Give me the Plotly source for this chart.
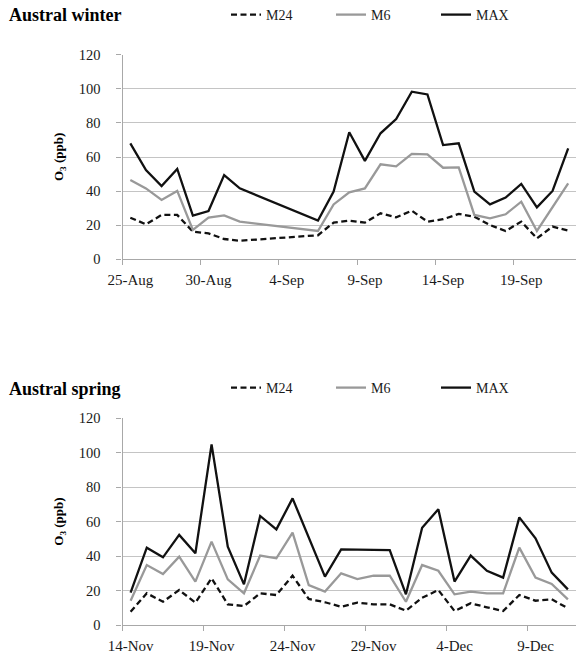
import plotly.graph_objects as go

# ---------------- data ----------------
winter_dates = ["2012-08-25", "2012-08-26", "2012-08-27", "2012-08-28", "2012-08-29",
                "2012-08-30", "2012-08-31", "2012-09-01",
                "2012-09-06", "2012-09-07", "2012-09-08", "2012-09-09", "2012-09-10",
                "2012-09-11", "2012-09-12", "2012-09-13", "2012-09-14", "2012-09-15",
                "2012-09-16", "2012-09-17", "2012-09-18", "2012-09-19", "2012-09-20",
                "2012-09-21", "2012-09-22"]
winter_m24 = [24.4, 20.5, 26.0, 26.0, 16.2, 15.2, 11.9, 10.9,
              14.1, 21.5, 22.7, 21.5, 27.0, 24.6, 28.5, 22.1, 23.5, 26.6,
              25.0, 20.1, 16.6, 22.1, 12.3, 19.2, 16.8]
winter_m6 = [46.5, 41.6, 34.8, 40.1, 17.2, 24.4, 25.8, 22.1,
             16.6, 32.2, 39.3, 41.6, 55.7, 54.5, 61.8, 61.6, 53.7, 53.9,
             26.0, 24.0, 26.4, 33.8, 16.6, 30.5, 44.6]
winter_max = [68.0, 52.4, 43.0, 53.0, 25.6, 28.3, 49.4, 41.6,
              22.7, 39.7, 74.5, 57.7, 73.9, 82.3, 98.3, 96.7, 67.0, 68.0,
              39.7, 32.2, 36.2, 44.2, 30.5, 40.1, 65.1]

spring_dates = ["2012-11-14", "2012-11-15", "2012-11-16", "2012-11-17", "2012-11-18",
                "2012-11-19", "2012-11-20", "2012-11-21", "2012-11-22", "2012-11-23",
                "2012-11-24", "2012-11-25", "2012-11-26", "2012-11-27", "2012-11-28",
                "2012-11-29", "2012-11-30", "2012-12-01", "2012-12-02", "2012-12-03",
                "2012-12-04", "2012-12-05", "2012-12-06", "2012-12-07", "2012-12-08",
                "2012-12-09", "2012-12-10", "2012-12-11"]
spring_m24 = [7.7, 18.4, 13.5, 20.3, 13.0, 27.1, 12.0, 11.0, 18.4, 17.4,
              28.6, 15.1, 13.2, 10.6, 13.0, 12.0, 12.0, 8.3, 15.8, 20.3,
              8.1, 12.6, 10.3, 8.1, 17.4, 14.1, 14.9, 9.7]
spring_m6 = [14.1, 34.8, 29.6, 39.7, 25.2, 48.4, 26.5, 18.4, 40.3, 38.7,
             53.6, 23.2, 19.4, 30.0, 26.7, 28.6, 28.6, 13.5, 34.8, 31.5,
             17.8, 19.4, 18.4, 18.4, 44.9, 27.5, 23.8, 14.9]
spring_max = [18.8, 44.9, 39.3, 52.3, 41.6, 104.9, 45.5, 23.6, 63.3, 55.5,
              73.5, 51.3, 28.1, 43.9, 43.9, 43.5, 43.5, 17.8, 56.5, 67.2,
              25.2, 40.3, 31.5, 27.5, 62.5, 50.3, 30.4, 20.7]

series_names = ["M24", "M6", "MAX"]
panel_titles = ["Austral winter", "Austral spring"]
y_title = "<b>O<sub>3</sub> (ppb)</b>"
y_ticks = [0, 20, 40, 60, 80, 100, 120]

# ---------------- styling ----------------
W, H = 576, 658
FONT = "Liberation Serif"
TXT = "#1a1a1a"
GRID = "#c4c4c4"
AXIS = "#a8a8a8"
styles = [dict(color="#111111", width=2.3, dash="6px,3.5px"),
          dict(color="#999999", width=2.3),
          dict(color="#111111", width=2.3)]
DAY = 86400000


def ypaper(px):
    return 1 - px / H


fig = go.Figure()
panels = [
    (winter_dates, [winter_m24, winter_m6, winter_max], "x", "y", "legend"),
    (spring_dates, [spring_m24, spring_m6, spring_max], "x2", "y2", "legend2"),
]
for dates, vals, xa, ya, lg in panels:
    for name, v, st in zip(series_names, vals, styles):
        fig.add_trace(go.Scatter(x=dates, y=v, mode="lines", name=name,
                                 line=st, xaxis=xa, yaxis=ya, legend=lg,
                                 showlegend=True))

x_dom = [122.5 / W, 1]
y_doms = [[ypaper(259.3), ypaper(54.7)], [ypaper(625.0), ypaper(418.3)]]
x_ranges = [["2012-08-24 12:00", "2012-09-22 12:00"],
            ["2012-11-13 12:00", "2012-12-11 12:00"]]
x_tick0 = ["2012-08-25", "2012-11-14"]
x_minor0 = ["2012-08-24 12:00", "2012-11-13 12:00"]

layout = dict(
    width=W, height=H, autosize=False,
    margin=dict(l=0, r=0, t=0, b=0, pad=0, autoexpand=False),
    paper_bgcolor="white", plot_bgcolor="white",
    font=dict(family=FONT, size=14, color=TXT),
    showlegend=True,
)
for i in range(2):
    sx = "" if i == 0 else "2"
    layout["xaxis" + sx] = dict(
        domain=x_dom, range=x_ranges[i], type="date", anchor="y" + sx, automargin=False,
        showgrid=False, zeroline=False, showline=True, linecolor=AXIS, linewidth=1.2,
        ticks="", tick0=x_tick0[i], dtick=5 * DAY, tickformat="%-d-%b",
        tickfont=dict(family=FONT, size=15, color=TXT), ticklabelstandoff=7,
        minor=dict(ticks="outside", tick0=x_minor0[i], dtick=5 * DAY, ticklen=5,
                   tickcolor=AXIS, tickwidth=1.2, showgrid=False),
    )
    layout["yaxis" + sx] = dict(
        domain=y_doms[i], range=[0, 120], anchor="x" + sx, automargin=False,
        tickmode="array", tickvals=y_ticks,
        showgrid=True, gridcolor=GRID, gridwidth=1.3, zeroline=False,
        showline=True, linecolor=AXIS, linewidth=1.2,
        ticks="outside", ticklen=5, tickcolor=AXIS, tickwidth=1.2,
        tickfont=dict(family=FONT, size=14.5, color=TXT), ticklabelstandoff=13,
    )
legend_y = [ypaper(15), ypaper(388)]
for i, key in enumerate(["legend", "legend2"]):
    layout[key] = dict(orientation="h", x=226 / W, xanchor="left",
                       y=legend_y[i], yanchor="middle",
                       font=dict(family=FONT, size=14, color=TXT),
                       entrywidth=60, entrywidthmode="pixels",
                       bgcolor="rgba(0,0,0,0)", traceorder="normal")

annotations = []
title_y = [ypaper(15), ypaper(389)]
for i in range(2):
    annotations.append(dict(text="<b>" + panel_titles[i] + "</b>", xref="paper", yref="paper",
                            x=65 / W, y=title_y[i], xanchor="center", yanchor="middle",
                            showarrow=False, font=dict(family=FONT, size=18, color="#000")))
    annotations.append(dict(text=y_title, xref="paper", yref="paper", textangle=-90,
                            x=60 / W, y=(y_doms[i][0] + y_doms[i][1]) / 2,
                            xanchor="center", yanchor="middle", showarrow=False,
                            font=dict(family=FONT, size=13, color="#000")))
layout["annotations"] = annotations

fig.update_layout(**layout)
fig.write_html("out.html", config={"displayModeBar": False},
               post_script="document.body.style.margin='0';document.body.style.padding='0';"
                           "document.documentElement.style.overflow='hidden';")
